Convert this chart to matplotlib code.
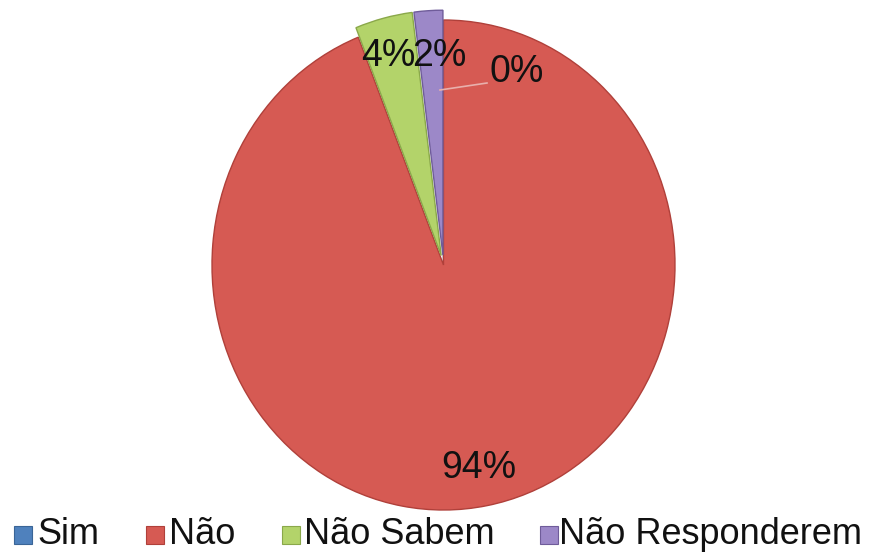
import matplotlib
matplotlib.use("Agg")
import matplotlib.pyplot as plt
from matplotlib.patches import Rectangle

categories = ["Sim", "Não", "Não Sabem", "Não Responderem"]
values = [0, 94, 4, 2]
colors = ["#4F81BD", "#D65A53", "#B3D36A", "#9C88C8"]
edges = ["#3A6597", "#B0403A", "#8AA84A", "#6F5C9A"]

plt.rcParams['font.family'] = ['Liberation Sans', 'DejaVu Sans']

W, H = 871, 552
fig = plt.figure(figsize=(W/100, H/100), dpi=100)
cx, cy, rx, ry = 443.5, 265, 231.5, 245
ax = fig.add_axes([(cx-rx)/W, (H-(cy+ry))/H, 2*rx/W, 2*ry/H])
wedges, _ = ax.pie(values, colors=colors, startangle=90, counterclock=False,
                   explode=[0, 0, 0.04, 0.04], radius=1,
                   wedgeprops=dict(linewidth=1.0))
for w, e in zip(wedges, edges):
    w.set_edgecolor(e)
    w.set_clip_on(False)
ax.set_xlim(-1, 1)
ax.set_ylim(-1, 1)
ax.set_aspect('auto')
ax.axis('off')

def px(x, y):
    return ((x - cx) / rx, (cy - y) / ry)

labels = [f"{v}%" for v in values]
fs = 27
tc = '#111111'
ax.text(*px(517, 72), labels[0], fontsize=fs, ha='center', va='center', color=tc)
ax.plot(*zip(px(440, 90), px(487, 83)), color='#E8B0AC', lw=1.2, clip_on=False)
ax.text(*px(479, 468), labels[1], fontsize=fs, ha='center', va='center', color=tc)
ax.text(*px(388, 56), labels[2], fontsize=fs, ha='center', va='center', color=tc)
ax.text(*px(439, 56), labels[3], fontsize=fs, ha='center', va='center', color=tc)

# legend drawn in figure pixels
sq_x = [14, 146, 282, 540]
txt_x = [37, 169, 304, 559]
for c, e, sx, tx, name in zip(colors, edges, sq_x, txt_x, categories):
    fig.patches.append(Rectangle((sx/W, (H-544)/H), 18/W, 18/H, transform=fig.transFigure,
                                 facecolor=c, edgecolor=e, lw=0.8))
    fig.text(tx/W, (H-544)/H, name, fontsize=26, ha='left', va='baseline', color=tc)

fig.savefig("out.png", dpi=100)
